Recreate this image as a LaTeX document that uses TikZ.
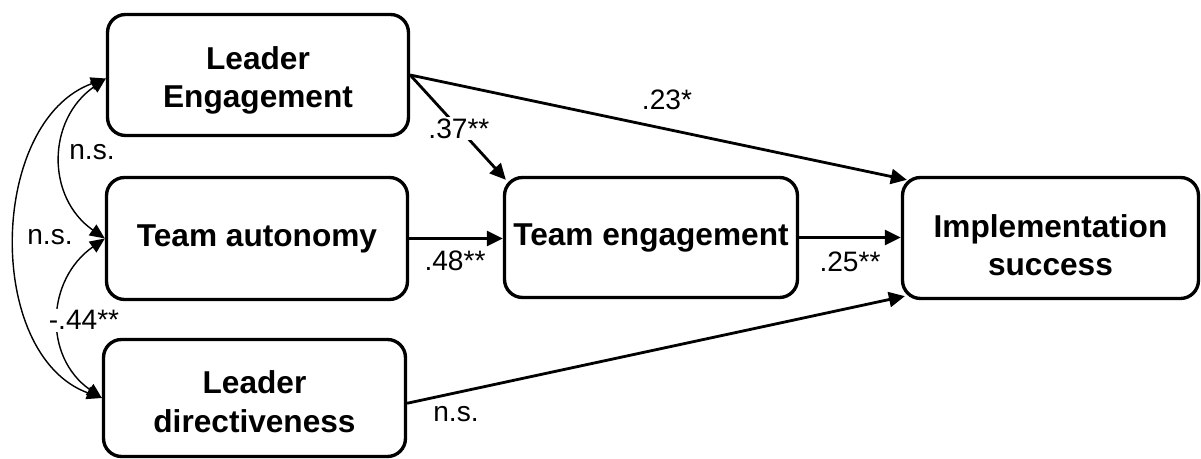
\documentclass[tikz,border=0pt]{standalone}
\usepackage{fontspec}
\setmainfont{Liberation Sans}
\usetikzlibrary{arrows.meta,calc}
\begin{document}
\begin{tikzpicture}[x=0.02cm,y=0.02cm,
  box/.style={draw, line width=1.9pt, rounded corners=0.36cm, align=center,
    font=\fontsize{18}{22}\selectfont\bfseries, inner sep=0pt},
  path/.style={line width=1.6pt, -{Triangle[length=0.32cm,width=0.3cm]}},
  corr/.style={line width=0.8pt, {Triangle[length=0.3cm,width=0.26cm]}-{Triangle[length=0.3cm,width=0.26cm]}, looseness=1.15},
  lab/.style={font=\fontsize{16}{18}\selectfont, anchor=base, inner sep=1pt}]
\useasboundingbox (0,0) rectangle (1201,459);
% boxes
\node[box, minimum width=6.02cm, minimum height=2.42cm, text height=1.5cm, text depth=0.19cm] (le) at (258,384) {Leader\\Engagement};
\node[box, minimum width=6.02cm, minimum height=2.44cm] (ta) at (257,220.5) {Team autonomy};
\node[box, minimum width=6.04cm, minimum height=2.34cm, text height=1.56cm, text depth=0.19cm] (ld) at (254.5,61) {Leader\\directiveness};
\node[box, minimum width=5.86cm, minimum height=2.40cm] (te) at (651,221.5) {Team engagement};
\node[box, minimum width=5.92cm, minimum height=2.42cm, text height=1.7cm, text depth=0.19cm] (is) at (1050.5,221) {Implementation\\success};
% paths
\draw[path] (le.east) -- ([shift={(6,-4)}]is.north west);
\draw[path] (le.east) -- node[pos=0.51, fill=white, font=\fontsize{16}{18}\selectfont, inner sep=1pt] (l37) {.37**} ([shift={(3,-4)}]te.north west);
\draw[path] (ta.east) -- (ta.east -| te.west);
\draw[path] (te.east) -- (te.east -| is.west);
\draw[path] ([yshift=-3]ld.east) -- ([shift={(4,4)}]is.south west);
% correlations
\draw[corr] ([yshift=-2]le.west) to[out=215,in=145] (ta.west);
\draw[corr] (ta.west) to[out=215,in=145] (ld.west);
\draw[corr] ([yshift=-2]le.west) to[out=200,in=160,looseness=1] (ld.west);
% labels
\node[lab] (l23) at (667,349) {.23*};
\node[lab] (l48) at (455,188) {.48**};
\node[lab] (l25) at (850,187) {.25**};
\node[lab] (lns3) at (456,37) {n.s.};
\node[lab] (lns1) at (92,299) {n.s.};
\node[lab] (lns2) at (50,214) {n.s.};
\node[lab, fill=white] (l44) at (84,129) {-.44**};
\end{tikzpicture}
\end{document}
